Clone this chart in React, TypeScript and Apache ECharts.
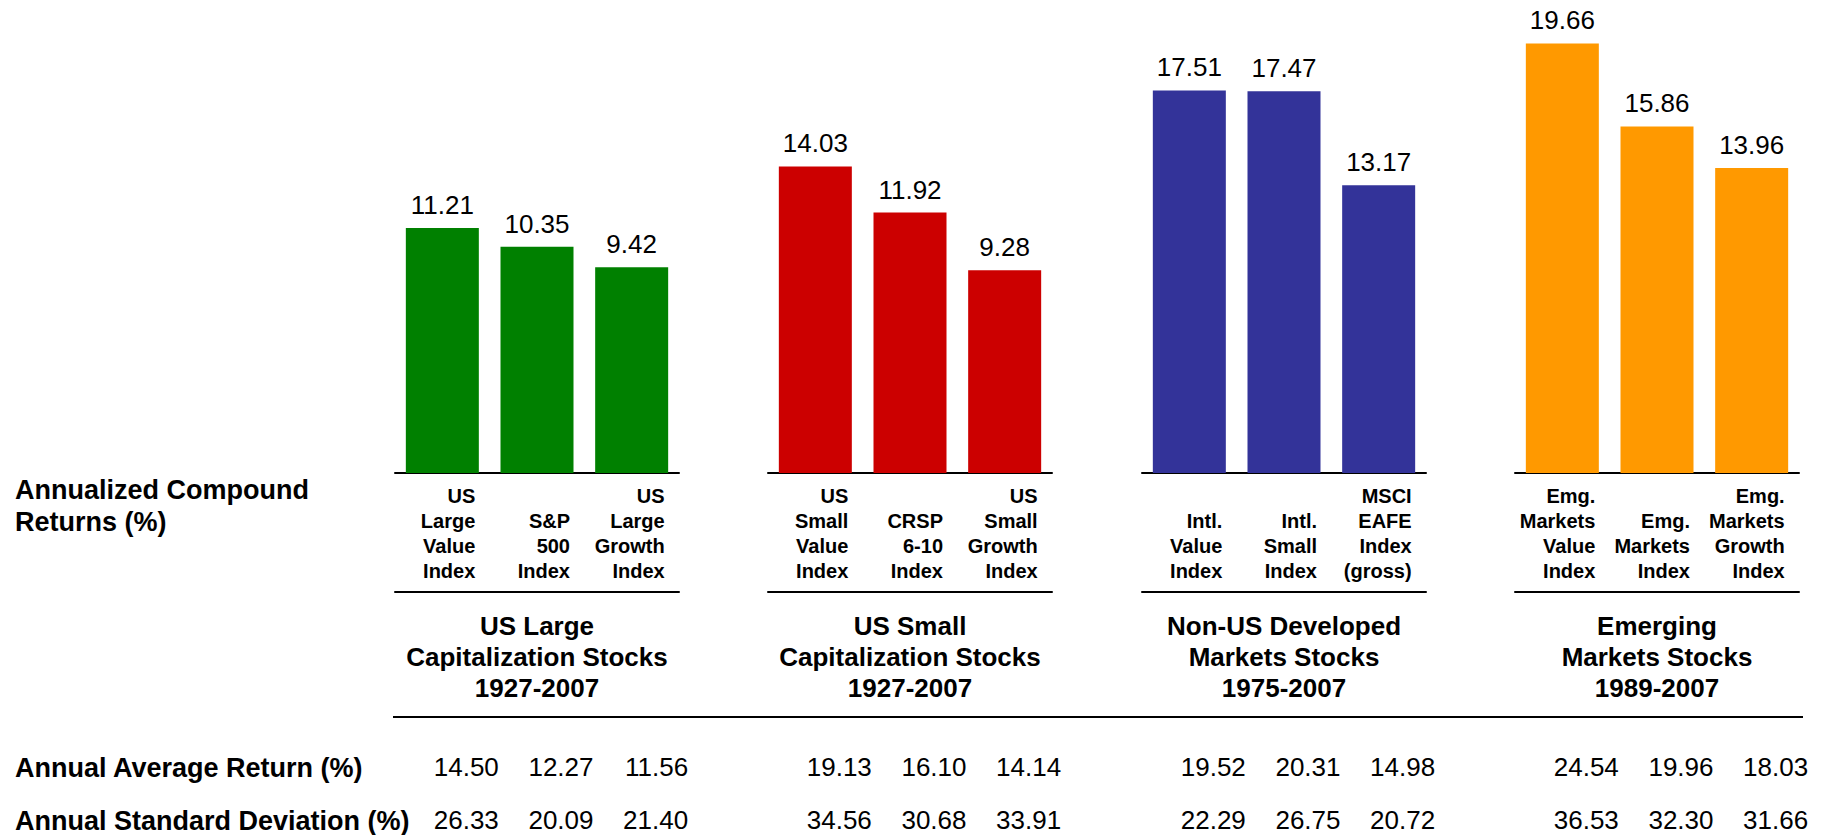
import React, { useEffect, useRef } from "react";
import * as echarts from "echarts";

const groupTitles = [
  "US Large\nCapitalization Stocks\n1927-2007",
  "US Small\nCapitalization Stocks\n1927-2007",
  "Non-US Developed\nMarkets Stocks\n1975-2007",
  "Emerging\nMarkets Stocks\n1989-2007",
];
const usLargeNames = ["US\nLarge\nValue\nIndex", "S&P\n500\nIndex", "US\nLarge\nGrowth\nIndex"];
const usSmallNames = ["US\nSmall\nValue\nIndex", "CRSP\n6-10\nIndex", "US\nSmall\nGrowth\nIndex"];
const nonUsNames = ["Intl.\nValue\nIndex", "Intl.\nSmall\nIndex", "MSCI\nEAFE\nIndex\n(gross)"];
const emergingNames = ["Emg.\nMarkets\nValue\nIndex", "Emg.\nMarkets\nIndex", "Emg.\nMarkets\nGrowth\nIndex"];

const usLargeReturns = [11.21, 10.35, 9.42];
const usSmallReturns = [14.03, 11.92, 9.28];
const nonUsReturns = [17.51, 17.47, 13.17];
const emergingReturns = [19.66, 15.86, 13.96];

const usLargeAvg = [14.5, 12.27, 11.56];
const usSmallAvg = [19.13, 16.1, 14.14];
const nonUsAvg = [19.52, 20.31, 14.98];
const emergingAvg = [24.54, 19.96, 18.03];

const usLargeStd = [26.33, 20.09, 21.4];
const usSmallStd = [34.56, 30.68, 33.91];
const nonUsStd = [22.29, 26.75, 20.72];
const emergingStd = [36.53, 32.3, 31.66];

const groupColors = ["#008000", "#CC0000", "#333399", "#FF9900"];

const FONT = "'Liberation Sans', Arial, Helvetica, sans-serif";

export default function App() {
  const ref = useRef<HTMLDivElement>(null);

  useEffect(() => {
    if (!ref.current) return;
    const chart = echarts.init(ref.current, null, { renderer: "svg" });

    const names = [usLargeNames, usSmallNames, nonUsNames, emergingNames];
    const returns = [usLargeReturns, usSmallReturns, nonUsReturns, emergingReturns];
    const avgs = [usLargeAvg, usSmallAvg, nonUsAvg, emergingAvg];
    const stds = [usLargeStd, usSmallStd, nonUsStd, emergingStd];

    const lefts = [395, 768, 1142, 1515];
    const gridW = 284;

    const grids: any[] = [];
    const xAxes: any[] = [];
    const yAxes: any[] = [];
    const series: any[] = [];

    for (let g = 0; g < 4; g++) {
      grids.push({ left: lefts[g], width: gridW, top: 36, height: 437, containLabel: false });
      yAxes.push({ gridIndex: g, type: "value", min: 0, max: 20, show: false });

      // main category axis with index names and group title
      xAxes.push({
        gridIndex: g,
        type: "category",
        position: "bottom",
        data: names[g],
        axisLine: { show: true, lineStyle: { color: "#000", width: 2 } },
        axisTick: { show: false },
        splitLine: { show: false },
        axisLabel: {
          interval: 0,
          margin: 110,
          verticalAlign: "bottom",
          lineHeight: 25,
          formatter: (v: string) => `{n|${v}}`,
          rich: {
            n: {
              width: 66,
              align: "right",
              fontFamily: FONT,
              fontSize: 20,
              fontWeight: "bold",
              lineHeight: 25,
              color: "#000",
            },
          },
        },
        name: groupTitles[g],
        nameLocation: "middle",
        nameGap: 137,
        nameTextStyle: {
          fontFamily: FONT,
          fontSize: 26,
          fontWeight: "bold",
          lineHeight: 31,
          color: "#000",
          verticalAlign: "top",
          align: "center",
        },
      });
      // underline below the index names
      xAxes.push({
        gridIndex: g,
        type: "category",
        position: "bottom",
        offset: 119,
        data: names[g],
        axisLine: { show: true, lineStyle: { color: "#000", width: 2 } },
        axisTick: { show: false },
        axisLabel: { show: false },
      });
      // annual average return row
      xAxes.push({
        gridIndex: g,
        type: "category",
        position: "bottom",
        data: avgs[g].map((v) => v.toFixed(2)),
        axisLine: { show: false },
        axisTick: { show: false },
        axisLabel: {
          interval: 0,
          margin: 281,
          formatter: (v: string) => `{n|${v}}`,
          rich: {
            n: { width: 113, align: "right", fontFamily: FONT, fontSize: 26, lineHeight: 26, color: "#000" },
          },
        },
      });
      // annual standard deviation row
      xAxes.push({
        gridIndex: g,
        type: "category",
        position: "bottom",
        data: stds[g].map((v) => v.toFixed(2)),
        axisLine: { show: false },
        axisTick: { show: false },
        axisLabel: {
          interval: 0,
          margin: 334,
          formatter: (v: string) => `{n|${v}}`,
          rich: {
            n: { width: 113, align: "right", fontFamily: FONT, fontSize: 26, lineHeight: 26, color: "#000" },
          },
        },
      });

      series.push({
        type: "bar",
        xAxisIndex: g * 4,
        yAxisIndex: g,
        data: returns[g],
        barWidth: 73,
        itemStyle: { color: groupColors[g] },
        label: {
          show: true,
          position: "top",
          distance: 10,
          fontFamily: FONT,
          fontSize: 26,
          lineHeight: 26,
          color: "#000",
          formatter: (p: any) => Number(p.value).toFixed(2),
        },
      });
    }

    chart.setOption({
      animation: false,
      backgroundColor: "#fff",
      grid: grids,
      xAxis: xAxes,
      yAxis: yAxes,
      series,
      graphic: [
        {
          type: "text",
          left: 15,
          top: 474,
          style: {
            text: "Annualized Compound\nReturns (%)",
            fontFamily: FONT,
            fontSize: 27,
            fontWeight: "bold",
            lineHeight: 32,
            fill: "#000",
          },
        },
        {
          type: "text",
          left: 15,
          top: 754,
          style: {
            text: "Annual Average Return (%)",
            fontFamily: FONT,
            fontSize: 27,
            fontWeight: "bold",
            lineHeight: 27,
            fill: "#000",
          },
        },
        {
          type: "text",
          left: 15,
          top: 807,
          style: {
            text: "Annual Standard Deviation (%)",
            fontFamily: FONT,
            fontSize: 27,
            fontWeight: "bold",
            lineHeight: 27,
            fill: "#000",
          },
        },
        {
          type: "line",
          shape: { x1: 393, y1: 717, x2: 1803, y2: 717 },
          style: { stroke: "#000", lineWidth: 2 },
        },
      ],
    });

    return () => chart.dispose();
  }, []);

  return (
    <div
      ref={ref}
      style={{ position: "fixed", left: 0, top: 0, width: "1828px", height: "835px", background: "#fff" }}
    />
  );
}
